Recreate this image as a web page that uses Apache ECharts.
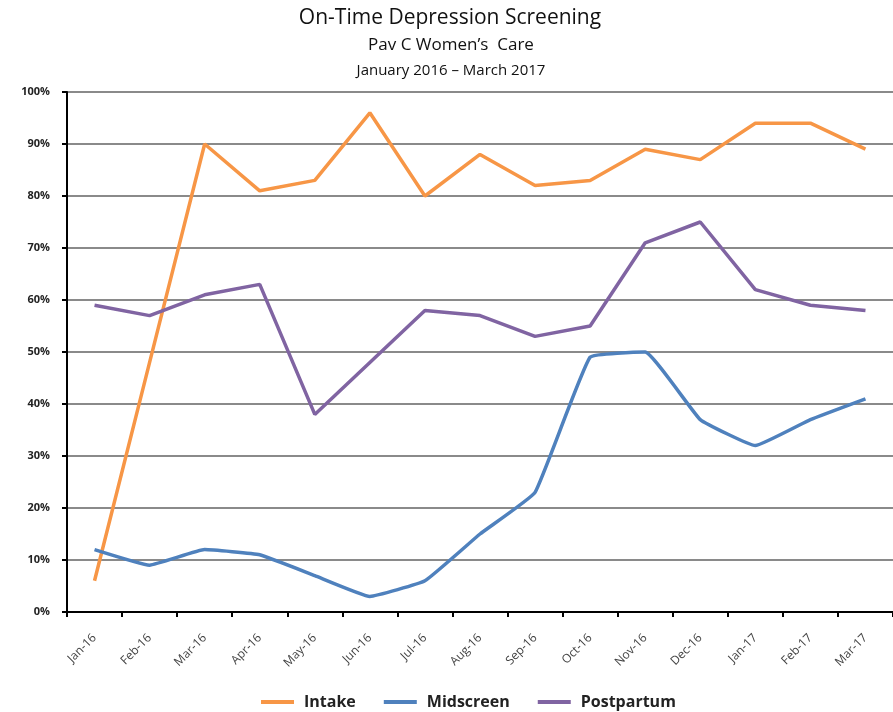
<!DOCTYPE html>
<html>
<head>
<meta charset="utf-8">
<script src="https://cdn.jsdelivr.net/npm/echarts@6/dist/echarts.min.js"></script>
<style>html,body{margin:0;padding:0;background:#fff}#c{width:893px;height:712px}</style>
</head>
<body>
<div id="c"></div>
<script>
var categories = ['Jan-16','Feb-16','Mar-16','Apr-16','May-16','Jun-16','Jul-16','Aug-16','Sep-16','Oct-16','Nov-16','Dec-16','Jan-17','Feb-17','Mar-17'];
var intake     = [6, 48, 90, 81, 83, 96, 80, 88, 82, 83, 89, 87, 94, 94, 89];
var midscreen  = [12, 9, 12, 11, 7, 3, 6, 15, 23, 49, 50, 37, 32, 37, 41];
var postpartum = [59, 57, 61, 63, 38, 48, 58, 57, 53, 55, 71, 75, 62, 59, 58];
var seriesNames = ['Intake', 'Midscreen', 'Postpartum'];
var colors = ['#F79646', '#4F81BD', '#8064A2'];

var chart = echarts.init(document.getElementById('c'), null, {renderer: 'canvas'});
var font = '"Open Sans", "DejaVu Sans", sans-serif';
chart.setOption({
  animation: false,
  backgroundColor: '#fff',
  graphic: [
    {type: 'text', x: 450, y: 18, style: {text: 'On-Time Depression Screening', font: '21px ' + font, fill: '#111', align: 'center', verticalAlign: 'middle'}},
    {type: 'text', x: 451, y: 45, style: {text: 'Pav C Women\u2019s  Care', font: '17px ' + font, fill: '#111', align: 'center', verticalAlign: 'middle'}},
    {type: 'text', x: 451, y: 71, style: {text: 'January 2016 \u2013 March 2017', font: '15px ' + font, fill: '#111', align: 'center', verticalAlign: 'middle'}}
  ],
  legend: {
    data: seriesNames,
    left: 256,
    top: 689,
    itemWidth: 33,
    itemHeight: 4,
    itemGap: 28,
    icon: 'rect',
    textStyle: {fontFamily: font, fontWeight: 'bold', fontSize: 16, color: '#222', padding: [0, 0, 0, 5]}
  },
  grid: {left: 67, top: 92, width: 836, height: 520, containLabel: false},
  xAxis: {
    type: 'category',
    data: categories,
    boundaryGap: true,
    axisLine: {lineStyle: {color: '#000', width: 2}},
    axisTick: {show: true, length: 5, inside: false, lineStyle: {color: '#000', width: 2}},
    axisLabel: {rotate: 45, fontSize: 12, fontFamily: font, color: '#444', margin: 24, interval: 0}
  },
  yAxis: {
    type: 'value',
    min: 0, max: 100, interval: 10,
    axisLine: {show: true, lineStyle: {color: '#000', width: 2}},
    axisTick: {show: true, length: 5, lineStyle: {color: '#000', width: 2}},
    axisLabel: {formatter: '{value}%', fontSize: 11, fontWeight: 'bold', fontFamily: font, color: '#222', margin: 17},
    splitLine: {show: true, lineStyle: {color: '#8a8a8a', width: 2}}
  },
  series: [
    {name: seriesNames[0], type: 'line', data: intake, showSymbol: false, symbol: 'none', lineStyle: {color: colors[0], width: 3.5}, itemStyle: {color: colors[0]}},
    {name: seriesNames[1], type: 'line', data: midscreen, showSymbol: false, symbol: 'none', smooth: 0.1, lineStyle: {color: colors[1], width: 3.5}, itemStyle: {color: colors[1]}},
    {name: seriesNames[2], type: 'line', data: postpartum, showSymbol: false, symbol: 'none', lineStyle: {color: colors[2], width: 3.5}, itemStyle: {color: colors[2]}}
  ]
});
</script>
</body>
</html>
